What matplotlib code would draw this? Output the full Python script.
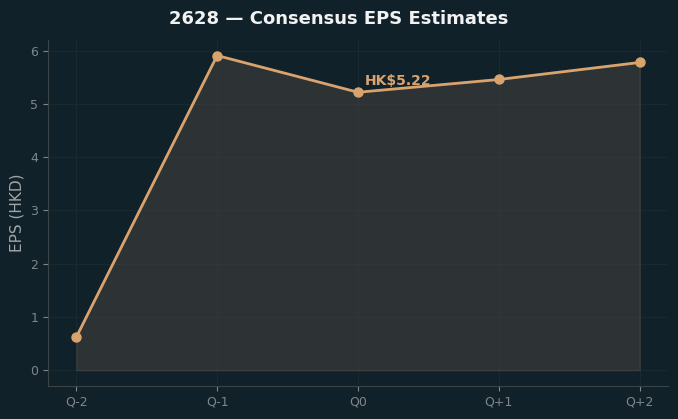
import matplotlib
matplotlib.use('Agg')
import matplotlib.pyplot as plt

quarters = ['Q-2', 'Q-1', 'Q0', 'Q+1', 'Q+2']
eps = [0.62, 5.91, 5.22, 5.46, 5.78]
label_text = 'HK$5.22'

bg = '#10212a'
line_c = '#d9a36e'

fig = plt.figure(figsize=(6.78, 4.19), dpi=100, facecolor=bg)
ax = fig.add_axes([0.071, 0.079, 0.914, 0.826], facecolor=bg)

x = list(range(len(quarters)))
ax.fill_between(x, eps, 0, color='#4a4640', alpha=0.5, edgecolor='#4d4a44', zorder=1)
ax.plot(x, eps, color=line_c, lw=2, marker='o', ms=6.5, zorder=3)
ax.annotate(label_text, (2, eps[2]), xytext=(5, 5), textcoords='offset points',
            color=line_c, fontsize=10, fontweight='bold', zorder=4)

ax.set_xticks(x)
ax.set_xticklabels(quarters)
ax.set_ylabel('EPS (HKD)', color='#a0a6a8', fontsize=11)
ax.tick_params(colors='#80878a', labelsize=9)
ax.grid(True, color='#18292f', lw=0.8)
ax.set_axisbelow(True)
for s in ['top', 'right']:
    ax.spines[s].set_visible(False)
for s in ['left', 'bottom']:
    ax.spines[s].set_color('#3b4548')

fig.suptitle('2628 — Consensus EPS Estimates', color='#f2f2f2', fontsize=13,
             fontweight='bold', y=0.977)

fig.savefig('out.png', dpi=100, facecolor=bg)
